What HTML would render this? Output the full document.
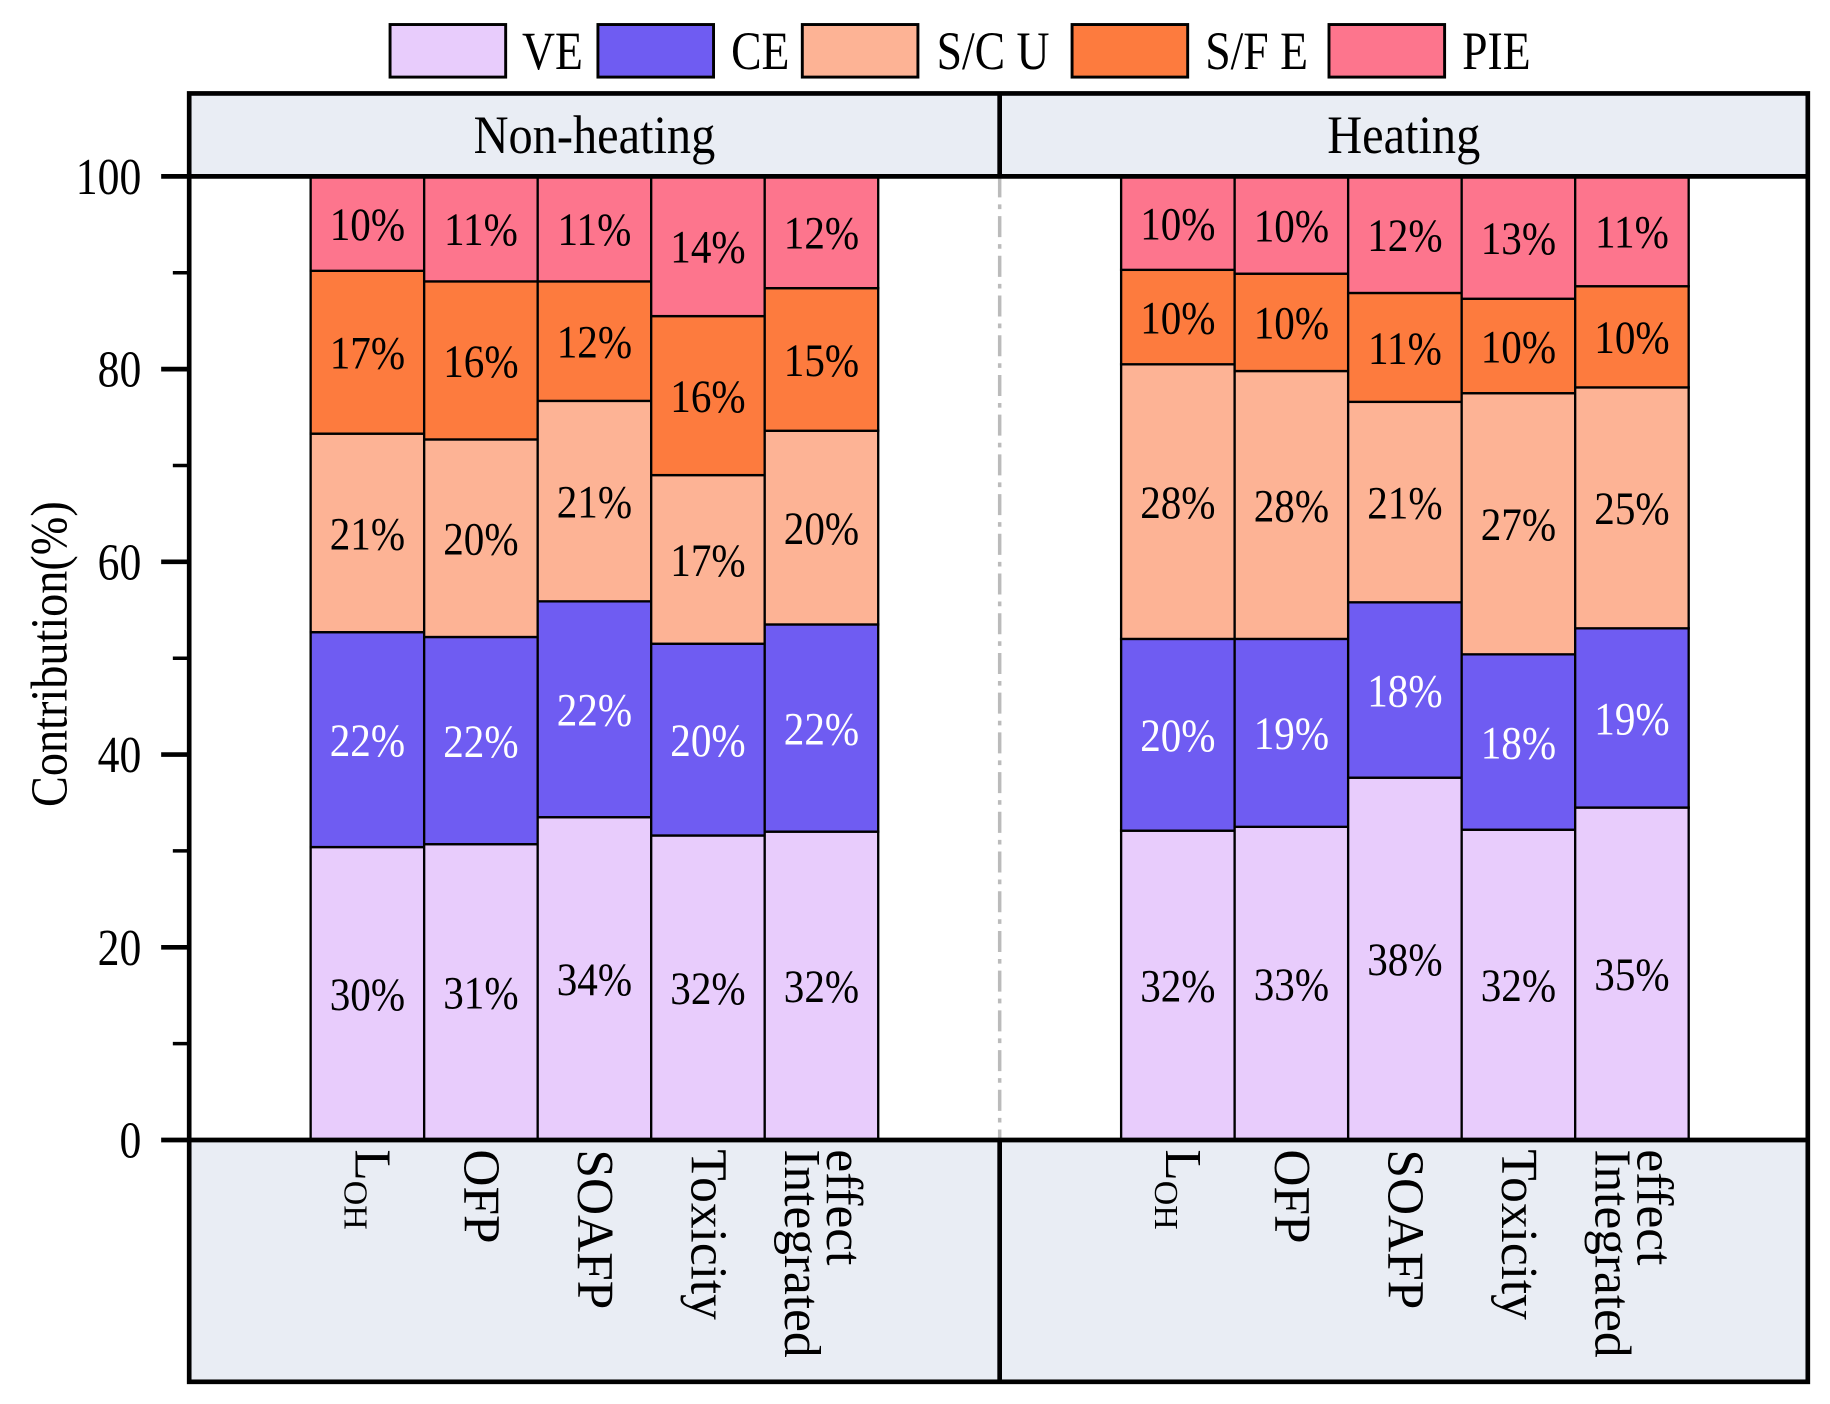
<!DOCTYPE html>
<html><head><meta charset="utf-8"><style>
html,body{margin:0;padding:0;background:#fff;}
svg{display:block;font-family:"Liberation Serif",serif;}
</style></head><body>
<svg id="chart" width="1830" height="1404" viewBox="0 0 1567 1202" preserveAspectRatio="none" xmlns="http://www.w3.org/2000/svg">
<g id="legend"></g>
<rect x="162" y="80" width="694" height="71" fill="#e9edf4"/>
<rect x="856" y="80" width="692" height="71" fill="#e9edf4"/>
<rect x="162" y="976" width="694" height="207" fill="#e9edf4"/>
<rect x="856" y="976" width="692" height="207" fill="#e9edf4"/>
<text font-size="46" text-anchor="middle" transform="translate(509,131) scale(0.9,1)">Non-heating</text>
<text font-size="46" text-anchor="middle" transform="translate(1202,131) scale(0.9,1)">Heating</text>
<line x1="856" y1="151" x2="856" y2="976" stroke="#bbbbbb" stroke-width="3" stroke-dasharray="18,6,4,6"/>
<g id="bars"></g>
<g id="axis"></g>
<g id="cats"></g>
<g fill="none" stroke="#000" stroke-width="4">
<rect x="162" y="80" width="1386" height="1103"/>
<line x1="162" y1="151" x2="1548" y2="151"/>
<line x1="162" y1="976" x2="1548" y2="976"/>
<line x1="856" y1="80" x2="856" y2="151"/>
<line x1="856" y1="976" x2="856" y2="1183"/>
</g>
<text font-size="44" text-anchor="middle" transform="translate(57,560) rotate(-90) scale(0.9,1)">Contribution(%)</text>
</svg>
<script>
const seriesNames = ["VE","CE","S/C U","S/F E","PIE"];
const seriesColors = ["#e8ccfc","#6f5cf2","#fdb395","#fd7b3e","#fd758d"];
const categories = ["LOH","OFP","SOAFP","Toxicity","Integrated effect"];
const panels = ["Non-heating","Heating"];
// segment values [category] = [VE, CE, S/C U, S/F E, PIE]
const nonHeatingValues = [
  [30.4,22.3,20.6,16.9,9.8],
  [30.7,21.5,20.5,16.4,10.9],
  [33.5,22.4,20.8,12.4,10.9],
  [31.6,19.9,17.5,16.5,14.5],
  [32.0,21.5,20.1,14.8,11.6]
];
const heatingValues = [
  [32.1,19.9,28.5,9.8,9.7],
  [32.5,19.5,27.8,10.1,10.1],
  [37.6,18.2,20.8,11.3,12.1],
  [32.2,18.2,27.1,9.8,12.7],
  [34.5,18.6,25.0,10.5,11.4]
];
const nonHeatingLabels = [
  ["30%","22%","21%","17%","10%"],
  ["31%","22%","20%","16%","11%"],
  ["34%","22%","21%","12%","11%"],
  ["32%","20%","17%","16%","14%"],
  ["32%","22%","20%","15%","12%"]
];
const heatingLabels = [
  ["32%","20%","28%","10%","10%"],
  ["33%","19%","28%","10%","10%"],
  ["38%","18%","21%","11%","12%"],
  ["32%","18%","27%","10%","13%"],
  ["35%","19%","25%","10%","11%"]
];
const yTicks = [0,20,40,60,80,100];
const yMinorTicks = [10,30,50,70,90];

const NS="http://www.w3.org/2000/svg";
const Y0=976, Y100=151;
function yScale(v){return Y0-(Y0-Y100)*v/100;}
const panelStart=[266,960], barW=97.2;
function xScale(p,c){return panelStart[p]+c*barW;}
function mk(tag,attrs,parent){const e=document.createElementNS(NS,tag);for(const k in attrs)e.setAttribute(k,attrs[k]);parent.appendChild(e);return e;}

const bars=document.getElementById('bars');
[nonHeatingValues,heatingValues].forEach((vals,p)=>{
  const labs=p===0?nonHeatingLabels:heatingLabels;
  vals.forEach((segs,c)=>{
    let cum=0;
    segs.forEach((v,s)=>{
      const y1=yScale(cum+v), y2=yScale(cum);
      const r=mk('rect',{x:xScale(p,c),y:y1,width:barW,height:y2-y1,fill:seriesColors[s],stroke:'#000','stroke-width':2},bars);
      
      
      const t=mk('text',{'font-size':40,'text-anchor':'middle',fill:s===1?'#fff':'#000',transform:'translate('+(xScale(p,c)+barW/2)+','+((y1+y2)/2+14)+') scale(0.88,1)'},bars);
      
      
      t.textContent=labs[c][s];
      cum+=v;
    });
  });
});

const axis=document.getElementById('axis');
yTicks.forEach(v=>{
  const l=mk('line',{x1:138,y1:yScale(v),x2:162,y2:yScale(v),stroke:'#000','stroke-width':4},axis);
  
  
  const t=mk('text',{'font-size':44,'text-anchor':'end',transform:'translate(121,'+(yScale(v)+15)+') scale(0.85,1)'},axis);
  
  
  t.textContent=v;
});
yMinorTicks.forEach(v=>{
  const l=mk('line',{x1:148,y1:yScale(v),x2:162,y2:yScale(v),stroke:'#000','stroke-width':3},axis);
  
  
});

const cats=document.getElementById('cats');
[0,1].forEach(p=>{
  categories.forEach((name,c)=>{
    const cx=xScale(p,c)+barW/2;
    if(name==="Integrated effect"){
      const t1=mk('text',{'font-size':44,transform:'translate('+(cx+19)+',984) rotate(90)','dominant-baseline':'central'},cats);
      
      
      t1.textContent="effect";
      const t2=mk('text',{'font-size':44,transform:'translate('+(cx-17)+',984) rotate(90)','dominant-baseline':'central'},cats);
      
      
      t2.textContent="Integrated";
    } else if(name==="LOH"){
      const t=mk('text',{'font-size':44,transform:'translate('+(cx+4)+',984) rotate(90)','dominant-baseline':'central'},cats);
      
      
      t.textContent="L";
      const s=mk('tspan',{'font-size':29,dy:14},t);
      s.textContent="OH";
    } else {
      const t=mk('text',{'font-size':44,transform:'translate('+cx+',984) rotate(90)','dominant-baseline':'central'},cats);
      
      
      t.textContent=name;
    }
  });
});

const legend=document.getElementById('legend');
const legBoxX=[334,512,687,918,1138], legTextX=[447,626,802,1032,1252];
seriesNames.forEach((n,i)=>{
  const r=mk('rect',{x:legBoxX[i],y:21,width:99,height:45,fill:seriesColors[i],stroke:'#000','stroke-width':2.5},legend);
  
  
  const t=mk('text',{'font-size':46,transform:'translate('+legTextX[i]+',59) scale(0.85,1)'},legend);
  
  
  t.textContent=n;
});
</script>
</body></html>
